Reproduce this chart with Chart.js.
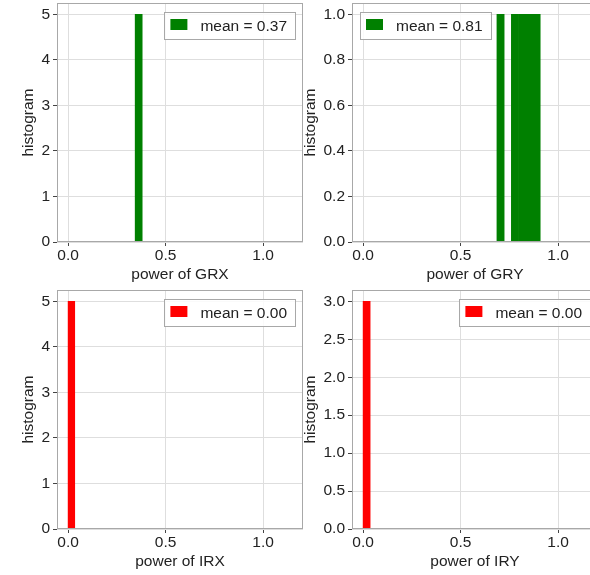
<!DOCTYPE html>
<html>
<head>
<meta charset="utf-8">
<script src="https://cdn.jsdelivr.net/npm/chart.js@4.4.1/dist/chart.umd.min.js"></script>
<style>
  html, body { margin: 0; padding: 0; width: 590px; height: 575px; overflow: hidden; background: #fff; }
  canvas { position: absolute; }
</style>
</head>
<body>
<canvas id="grx" width="305" height="285" style="left:0;top:0"></canvas>
<canvas id="gry" width="305" height="285" style="left:295px;top:0"></canvas>
<canvas id="irx" width="305" height="285" style="left:0;top:287px"></canvas>
<canvas id="iry" width="305" height="285" style="left:295px;top:287px"></canvas>
<script>
// shared x axis
const X_TICKS = [0, 0.5, 1.0];
const X_MIN = -0.057;
const X_MAX = 1.205;

// histogram bins (bin centres) and counts
const GRX_BINS = [0.326, 0.362, 0.398];
const GRX_COUNTS = [0, 5, 0];
const GRX_MEAN = 0.37;

const GRY_BINS = [0.705, 0.742, 0.779, 0.816, 0.853, 0.890];
const GRY_COUNTS = [1, 0, 1, 1, 1, 1];
const GRY_MEAN = 0.81;

const IRX_BINS = [0.017, 0.051];
const IRX_COUNTS = [5, 0];
const IRX_MEAN = 0.00;

const IRY_BINS = [0.018, 0.054];
const IRY_COUNTS = [3, 0];
const IRY_MEAN = 0.00;

// y tick labels per panel
const GRX_YTICKS = [0, 1, 2, 3, 4, 5];
const GRY_YTICKS = [0, 0.2, 0.4, 0.6, 0.8, 1.0];
const IRX_YTICKS = [0, 1, 2, 3, 4, 5];
const IRY_YTICKS = [0, 0.5, 1.0, 1.5, 2.0, 2.5, 3.0];

const GREEN = '#008000';
const RED = '#ff0000';
const GRID = '#dedede';
const FRAME = '#a8a8a8';
const TEXT = '#222';
const FONT = "'Liberation Sans', Arial, sans-serif";

Chart.defaults.font.family = FONT;
Chart.defaults.font.size = 15.5;
Chart.defaults.color = TEXT;

// box around the plot area, like matplotlib spines
const framePlugin = {
  id: 'frame',
  afterDatasetsDraw(chart) {
    const a = chart.chartArea, ctx = chart.ctx;
    ctx.save();
    ctx.strokeStyle = FRAME;
    ctx.lineWidth = 1;
    ctx.strokeRect(Math.round(a.left) + 0.5, Math.round(a.top) + 0.5,
      Math.round(a.right - a.left) - 1, Math.round(a.bottom - a.top) - 1);
    ctx.restore();
  }
};

// legend drawn inside the plot area with a border
const meanBox = {
  id: 'meanBox',
  afterDraw(chart, args, opts) {
    const a = chart.chartArea, ctx = chart.ctx;
    const ds = chart.data.datasets[0];
    ctx.save();
    ctx.font = '15.5px ' + FONT;
    const tw = ctx.measureText(ds.label).width;
    const w = 6 + 17 + 13 + tw + 8;
    const h = 27;
    const x = opts.side === 'left' ? a.left + 8 : a.right - 8 - w;
    const y = a.top + 9;
    ctx.fillStyle = 'rgba(255,255,255,0.85)';
    ctx.fillRect(x, y, w, h);
    ctx.strokeStyle = FRAME;
    ctx.lineWidth = 1;
    ctx.strokeRect(Math.round(x) + 0.5, Math.round(y) + 0.5, Math.round(w), h);
    ctx.fillStyle = ds.backgroundColor;
    ctx.fillRect(x + 6, y + 7, 17, 11);
    ctx.fillStyle = TEXT;
    ctx.textBaseline = 'middle';
    ctx.fillText(ds.label, x + 36, y + h / 2 + 1);
    ctx.restore();
  }
};

function makeHist(id, bins, counts, mean, color, xlabel, yTicks, yMax, yDec, side, yTitlePad) {
  new Chart(document.getElementById(id), {
    type: 'bar',
    data: {
      datasets: [{
        label: 'mean = ' + mean.toFixed(2),
        data: bins.map((b, i) => ({ x: b, y: counts[i] })),
        backgroundColor: color,
        borderWidth: 0,
        categoryPercentage: 1,
        barPercentage: 1
      }]
    },
    options: {
      responsive: false,
      animation: false,
      layout: { padding: { top: 3, right: 2, left: 0, bottom: 0 } },
      plugins: {
        legend: { display: false },
        tooltip: { enabled: false },
        meanBox: { side: side }
      },
      scales: {
        x: {
          type: 'linear',
          offset: false,
          min: X_MIN,
          max: X_MAX,
          afterBuildTicks: s => { s.ticks = X_TICKS.map(v => ({ value: v })); },
          afterFit: s => { s.height = 43; s.paddingLeft = 0; s.paddingRight = 0; },
          ticks: { padding: 0, maxRotation: 0, callback: v => v.toFixed(1) },
          grid: { color: GRID, tickColor: '#444', tickLength: 4, offset: false },
          border: { display: false },
          title: { display: true, text: xlabel, padding: { top: 0, bottom: 1 } }
        },
        y: {
          min: 0,
          max: yMax,
          afterBuildTicks: s => { s.ticks = yTicks.map(v => ({ value: v })); },
          afterFit: s => { s.width = 57; s.paddingTop = 0; s.paddingBottom = 0; },
          ticks: { padding: 3, callback: v => v.toFixed(yDec) },
          grid: { color: GRID, tickColor: '#444', tickLength: 4 },
          border: { display: false },
          title: { display: true, text: 'histogram', padding: { top: yTitlePad, bottom: 0 } }
        }
      }
    },
    plugins: [framePlugin, meanBox]
  });
}

makeHist('grx', GRX_BINS, GRX_COUNTS, GRX_MEAN, GREEN, 'power of GRX', GRX_YTICKS, 5.25, 0, 'right', 19);
makeHist('gry', GRY_BINS, GRY_COUNTS, GRY_MEAN, GREEN, 'power of GRY', GRY_YTICKS, 1.05, 1, 'left', 6);
makeHist('irx', IRX_BINS, IRX_COUNTS, IRX_MEAN, RED, 'power of IRX', IRX_YTICKS, 5.25, 0, 'right', 19);
makeHist('iry', IRY_BINS, IRY_COUNTS, IRY_MEAN, RED, 'power of IRY', IRY_YTICKS, 3.15, 1, 'right', 6);
</script>
</body>
</html>
